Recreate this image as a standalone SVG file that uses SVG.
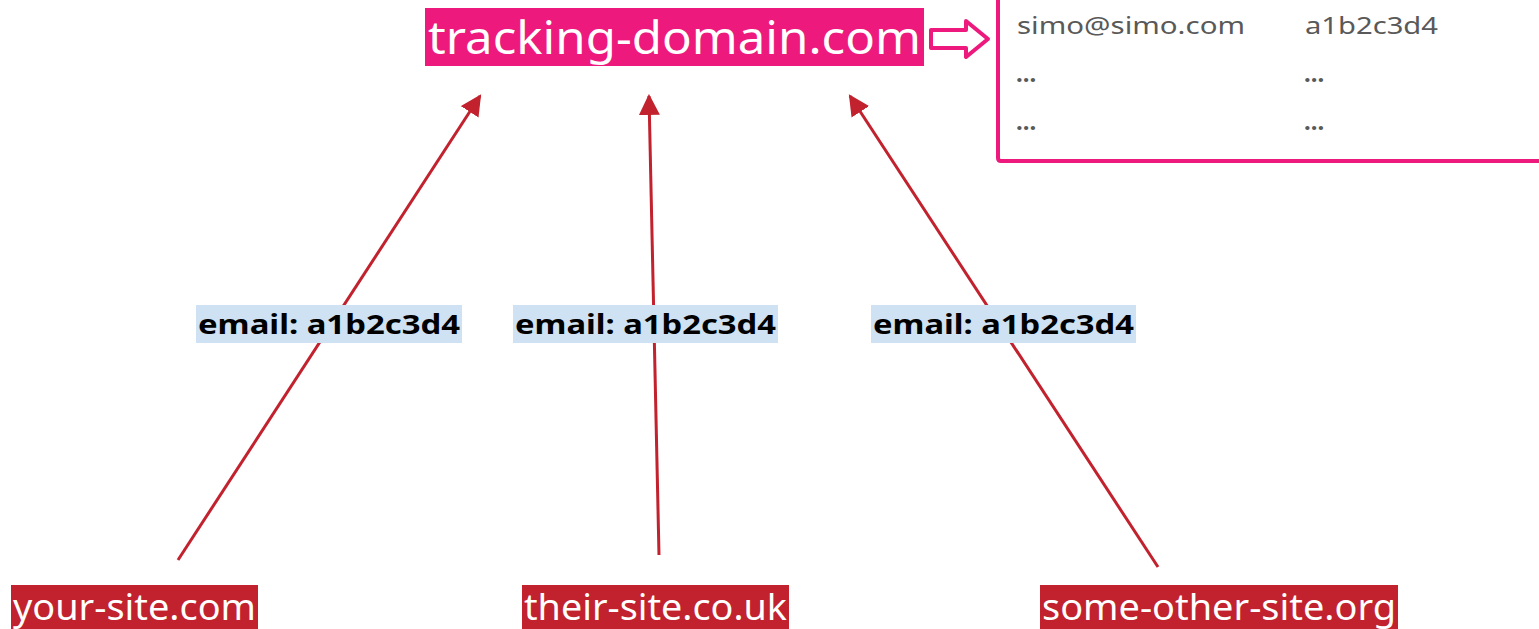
<svg xmlns="http://www.w3.org/2000/svg" width="1539" height="629" viewBox="0 0 1539 629">
  <style>
    .site { fill: #c1222d; }
    .site-text { font-family: "Noto Sans", "Open Sans", sans-serif; font-size: 36px; fill: #ffffff; }
    .label-bg { fill: #cfe2f3; }
    .label-text { font-family: "Noto Sans", "Open Sans", sans-serif; font-size: 26px; font-weight: bold; fill: #000000; }
    .link { stroke: #c1222d; stroke-width: 3; fill: none; marker-end: url(#head); }
    .cell { font-family: "Noto Sans", "Open Sans", sans-serif; font-size: 24px; fill: #595959; }
    .dots { font-family: "Noto Sans", "Open Sans", sans-serif; font-size: 24px; font-weight: bold; fill: #595959; }
  </style>
  <defs>
    <marker id="head" viewBox="0 0 10 10" refX="9" refY="5" markerWidth="7" markerHeight="7" orient="auto" markerUnits="strokeWidth">
      <path d="M0,0 L10,5 L0,10 Z" fill="#c1222d"/>
    </marker>
  </defs>

  <rect width="1539" height="629" fill="#ffffff"/>

  <!-- tracking domain -->
  <g id="tracking-domain">
    <rect x="425" y="8" width="499" height="58" fill="#ed197d"/>
    <text x="428" y="54" font-family="'Noto Sans', 'Open Sans', sans-serif" font-size="45" fill="#ffffff" textLength="493" lengthAdjust="spacingAndGlyphs">tracking-domain.com</text>
  </g>

  <!-- hollow arrow to the table -->
  <g id="store-arrow">
    <path d="M931,30 L966,30 L966,21 L988,39 L966,57 L966,48 L931,48 Z" fill="#ffffff" stroke="#ed197d" stroke-width="4" stroke-linejoin="round"/>
  </g>

  <!-- lookup table -->
  <g id="lookup-table">
    <path d="M998,0 L998,158 Q998,161 1001,161 L1539,161" fill="none" stroke="#ed197d" stroke-width="4"/>
    <text class="cell" x="1017" y="34" textLength="228" lengthAdjust="spacingAndGlyphs">simo@simo.com</text>
    <text class="cell" x="1305" y="34" textLength="133" lengthAdjust="spacingAndGlyphs">a1b2c3d4</text>
    <text class="dots" x="1016" y="82">...</text>
    <text class="dots" x="1304" y="82">...</text>
    <text class="dots" x="1016" y="130">...</text>
    <text class="dots" x="1304" y="130">...</text>
  </g>

  <!-- connectors -->
  <g id="connectors">
    <line class="link" x1="178" y1="560" x2="480" y2="96"/>
    <line class="link" x1="659" y1="555" x2="649" y2="96"/>
    <line class="link" x1="1158" y1="567" x2="850" y2="96"/>
  </g>

  <!-- connector labels -->
  <g id="label-1">
    <rect class="label-bg" x="196" y="305" width="266" height="38"/>
    <text class="label-text" x="198" y="334" textLength="262" lengthAdjust="spacingAndGlyphs">email: a1b2c3d4</text>
  </g>
  <g id="label-2">
    <rect class="label-bg" x="513" y="305" width="265" height="38"/>
    <text class="label-text" x="515" y="334" textLength="261" lengthAdjust="spacingAndGlyphs">email: a1b2c3d4</text>
  </g>
  <g id="label-3">
    <rect class="label-bg" x="871" y="305" width="265" height="38"/>
    <text class="label-text" x="873" y="334" textLength="261" lengthAdjust="spacingAndGlyphs">email: a1b2c3d4</text>
  </g>

  <!-- source sites -->
  <g id="your-site">
    <rect class="site" x="11" y="585" width="247" height="44"/>
    <text class="site-text" x="13" y="620" textLength="243" lengthAdjust="spacingAndGlyphs">your-site.com</text>
  </g>
  <g id="their-site">
    <rect class="site" x="522" y="585" width="267" height="44"/>
    <text class="site-text" x="524" y="620" textLength="263" lengthAdjust="spacingAndGlyphs">their-site.co.uk</text>
  </g>
  <g id="some-other-site">
    <rect class="site" x="1040" y="585" width="358" height="44"/>
    <text class="site-text" x="1042" y="620" textLength="354" lengthAdjust="spacingAndGlyphs">some-other-site.org</text>
  </g>
</svg>
